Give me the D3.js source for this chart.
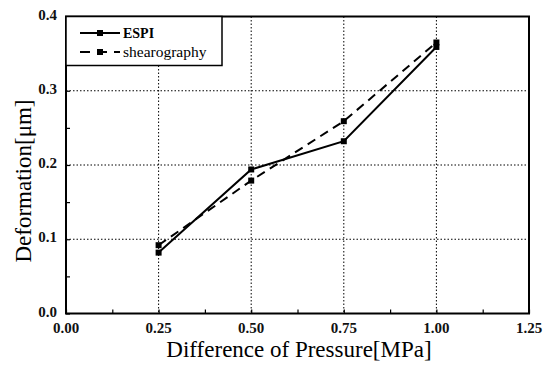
<!DOCTYPE html>
<html><head><meta charset="utf-8">
<script src="https://cdn.jsdelivr.net/npm/d3@7"></script>
<style>body{margin:0;background:#fff}svg{display:block}</style>
</head><body>
<svg id="c" width="555" height="368"></svg>
<script>
const pressure = [0.25, 0.5, 0.75, 1.0];
const espi = [0.082, 0.194, 0.232, 0.359];
const shearography = [0.092, 0.179, 0.259, 0.365];
const xTicks = [0, 0.25, 0.5, 0.75, 1.0, 1.25];
const yTicks = [0, 0.1, 0.2, 0.3, 0.4];
const xTickLabels = ["0.00", "0.25", "0.50", "0.75", "1.00", "1.25"];
const yTickLabels = ["0.0", "0.1", "0.2", "0.3", "0.4"];
const seriesNames = ["ESPI", "shearography"];

const svg = d3.select("#c");
const L = 66, R = 529, T = 16.5, B = 313.5;
const x = d3.scaleLinear().domain([0, 1.25]).range([L, R]);
const y = d3.scaleLinear().domain([0, 0.4]).range([B, T]);
const FONT = '"Liberation Serif"';

// grid
const g = svg.append("g");
g.selectAll(".gx").data(xTicks.slice(1, -1)).join("line")
  .attr("x1", d => x(d)).attr("x2", d => x(d)).attr("y1", T).attr("y2", B)
  .attr("stroke", "#000").attr("stroke-width", 1).attr("stroke-dasharray", "1.5,2");
g.selectAll(".gy").data(yTicks.slice(1, -1)).join("line")
  .attr("y1", d => y(d)).attr("y2", d => y(d)).attr("x1", L).attr("x2", R)
  .attr("stroke", "#000").attr("stroke-width", 1).attr("stroke-dasharray", "1.5,2");

// axes with inner ticks
const xAxis = d3.axisBottom(x).tickValues(d3.range(0, 1.26, 0.125)).tickSize(-4).tickFormat("");
const yAxis = d3.axisLeft(y).tickValues(d3.range(0, 0.41, 0.05)).tickSize(-4).tickFormat("");
svg.append("g").attr("transform", `translate(0,${B})`).call(xAxis).call(a => a.select(".domain").remove()).selectAll("line").attr("stroke-width", 1.2);
svg.append("g").attr("transform", `translate(${L},0)`).call(yAxis).call(a => a.select(".domain").remove()).selectAll("line").attr("stroke-width", 1.2);

svg.append("rect").attr("x", L).attr("y", T).attr("width", R - L).attr("height", B - T)
  .attr("fill", "none").attr("stroke", "#000").attr("stroke-width", 2);

// tick labels
svg.selectAll(".xl").data(xTicks).join("text")
  .attr("x", d => x(d)).attr("y", B + 19).attr("text-anchor", "middle")
  .style("font-family", FONT).attr("font-size", 15).attr("font-weight", "bold").attr("fill", "#111")
  .text((d, i) => xTickLabels[i]);
svg.selectAll(".yl").data(yTicks).join("text")
  .attr("x", L - 9).attr("y", d => y(d) + 3).attr("text-anchor", "end")
  .style("font-family", FONT).attr("font-size", 15).attr("font-weight", "bold").attr("fill", "#111")
  .text((d, i) => yTickLabels[i]);

// axis titles
svg.append("text").attr("x", 299).attr("y", 357).attr("text-anchor", "middle")
  .style("font-family", FONT).attr("font-size", 23).text("Difference of Pressure[MPa]");
svg.append("text").attr("transform", `translate(31,181) rotate(-90)`).attr("text-anchor", "middle")
  .style("font-family", FONT).attr("font-size", 23).text("Deformation[μm]");

// series
const line = d3.line().x(d => x(d[0])).y(d => y(d[1]));
const espiPts = pressure.map((p, i) => [p, espi[i]]);
const shPts = pressure.map((p, i) => [p, shearography[i]]);
svg.append("path").datum(shPts).attr("d", line).attr("fill", "none").attr("stroke", "#000")
  .attr("stroke-width", 2).attr("stroke-dasharray", "9,6");
svg.append("path").datum(espiPts).attr("d", line).attr("fill", "none").attr("stroke", "#000")
  .attr("stroke-width", 2);
const ms = 6;
[shPts, espiPts].forEach(pts => {
  svg.append("g").selectAll("rect").data(pts).join("rect")
    .attr("x", d => x(d[0]) - ms / 2).attr("y", d => y(d[1]) - ms / 2)
    .attr("width", ms).attr("height", ms).attr("fill", "#000");
});

// legend
const lg = svg.append("g");
lg.append("rect").attr("x", L).attr("y", T).attr("width", 156).attr("height", 49)
  .attr("fill", "#fff").attr("stroke", "#000").attr("stroke-width", 1.5);
const rows = [{y: 33, dash: null}, {y: 52, dash: "10,7"}];
rows.forEach((r, i) => {
  lg.append("line").attr("x1", 80).attr("x2", 120).attr("y1", r.y).attr("y2", r.y)
    .attr("stroke", "#000").attr("stroke-width", 2).attr("stroke-dasharray", r.dash);
  lg.append("rect").attr("x", 100 - ms / 2).attr("y", r.y - ms / 2).attr("width", ms).attr("height", ms).attr("fill", "#000");
  lg.append("text").attr("x", 123).attr("y", r.y + 5)
    .style("font-family", FONT).attr("font-size", i === 0 ? 14 : 15.5)
    .attr("font-weight", i === 0 ? "bold" : "normal").text(seriesNames[i]);
});
</script>
</body></html>
